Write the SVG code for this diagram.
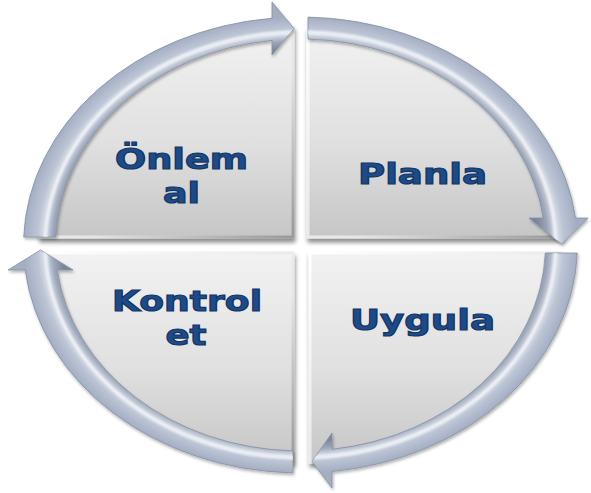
<svg xmlns="http://www.w3.org/2000/svg" xmlns:xlink="http://www.w3.org/1999/xlink" width="591" height="493" viewBox="0 0 591 493">
  <style>
    .panel { fill: url(#panelFill); stroke: url(#panelEdge); stroke-width: 3; filter: url(#panelShadow); }
    .label { font-family: "DejaVu Sans", Verdana, sans-serif; font-weight: bold; font-size: 29px; fill: #1e4b88; stroke: #143766; stroke-width: 1.2; text-anchor: middle; }
    .arrow { fill: url(#ringFill); stroke: #8690a5; stroke-width: 0.8; }
    .shine { fill: none; stroke: #f4f6fa; stroke-width: 3; opacity: 0.85; filter: url(#soft); }
  </style>
  <defs>
    <linearGradient id="panelFill" x1="0" y1="0" x2="0" y2="1">
      <stop offset="0" stop-color="#f2f2f2"/>
      <stop offset="0.55" stop-color="#e0e0e0"/>
      <stop offset="1" stop-color="#c6c6c6"/>
    </linearGradient>
    <linearGradient id="panelEdge" x1="0" y1="0" x2="1" y2="1">
      <stop offset="0" stop-color="#ffffff"/>
      <stop offset="0.6" stop-color="#e6e6e6"/>
      <stop offset="1" stop-color="#999999"/>
    </linearGradient>
    <radialGradient id="ringFill" gradientUnits="userSpaceOnUse" cx="300.5" cy="245" r="277"
      gradientTransform="translate(300.5 245) scale(1 0.823) translate(-300.5 -245)">
      <stop offset="0.86" stop-color="#7c869a"/>
      <stop offset="0.895" stop-color="#9ea8bb"/>
      <stop offset="0.925" stop-color="#dce1ea"/>
      <stop offset="0.95" stop-color="#bcc5d5"/>
      <stop offset="1" stop-color="#a4aec3"/>
    </radialGradient>
    <filter id="panelShadow" x="-10%" y="-10%" width="120%" height="125%">
      <feDropShadow dx="1" dy="4" stdDeviation="2" flood-color="#000" flood-opacity="0.45"/>
    </filter>
    <filter id="arrowShadow" x="-10%" y="-10%" width="120%" height="125%">
      <feDropShadow dx="1" dy="2" stdDeviation="1.5" flood-color="#000" flood-opacity="0.3"/>
    </filter>
    <filter id="soft" x="-5%" y="-5%" width="110%" height="110%">
      <feGaussianBlur stdDeviation="0.8"/>
    </filter>
    <path id="arrowTL" d="M 23.7,237 A 277 228 0 0 1 272,18.2 L 272,2 L 294,28.5 L 272,55 L 272,40.4 A 245 206 0 0 0 55.7,237 Z"/>
    <path id="arrowTR" d="M 308,17.1 A 277 228 0 0 1 575.5,218 L 588,218 L 561.5,244 L 529,218 L 543.4,218 A 245 206 0 0 0 308,39.1 Z"/>
    <path id="arrowBR" d="M 577.3,253 A 277 228 0 0 1 332,471.5 L 332,488 L 312,461.5 L 332,433 L 332,449.3 A 245 206 0 0 0 545.3,253 Z"/>
    <path id="arrowBL" d="M 293,472.9 A 277 228 0 0 1 25.2,270 L 8,270 L 40.5,250 L 73,270 L 57.3,270 A 245 206 0 0 0 293,450.9 Z"/>
    <clipPath id="clipTL"><use xlink:href="#arrowTL"/></clipPath>
    <clipPath id="clipTR"><use xlink:href="#arrowTR"/></clipPath>
    <clipPath id="clipBR"><use xlink:href="#arrowBR"/></clipPath>
    <clipPath id="clipBL"><use xlink:href="#arrowBL"/></clipPath>
  </defs>

  <rect width="591" height="493" fill="#ffffff"/>

  <!-- quarter panels -->
  <g id="node-onlem-al">
    <path class="panel" d="M 293,237 L 39.7,237 A 261 217 0 0 1 293,28.1 Z"/>
    <text class="label" x="181.5" y="169" textLength="133" lengthAdjust="spacingAndGlyphs">Önlem</text>
    <text class="label" x="181.5" y="203" textLength="37" lengthAdjust="spacingAndGlyphs">al</text>
  </g>
  <g id="node-planla">
    <path class="panel" d="M 308,237 L 308,28.1 A 261 217 0 0 1 561.3,237 Z"/>
    <text class="label" x="422.5" y="184" textLength="129" lengthAdjust="spacingAndGlyphs">Planla</text>
  </g>
  <g id="node-uygula">
    <path class="panel" d="M 310,253 L 561.3,253 A 261 217 0 0 1 310,461.9 Z"/>
    <text class="label" x="422.5" y="330" textLength="145" lengthAdjust="spacingAndGlyphs">Uygula</text>
  </g>
  <g id="node-kontrol-et">
    <path class="panel" d="M 293,253 L 293,461.9 A 261 217 0 0 1 39.7,253 Z"/>
    <text class="label" x="187" y="311" textLength="150" lengthAdjust="spacingAndGlyphs">Kontrol</text>
    <text class="label" x="186" y="345" textLength="41" lengthAdjust="spacingAndGlyphs">et</text>
  </g>

  <!-- curved arrows around the cycle -->
  <g id="connectors">
    <g filter="url(#arrowShadow)">
      <use class="arrow" xlink:href="#arrowTL"/>
      <use class="arrow" xlink:href="#arrowTR"/>
      <use class="arrow" xlink:href="#arrowBR"/>
      <use class="arrow" xlink:href="#arrowBL"/>
    </g>
    <ellipse class="shine" clip-path="url(#clipTL)" cx="300.5" cy="245" rx="255" ry="213"/>
    <ellipse class="shine" clip-path="url(#clipTR)" cx="300.5" cy="245" rx="255" ry="213"/>
    <ellipse class="shine" clip-path="url(#clipBR)" cx="300.5" cy="245" rx="255" ry="213"/>
    <ellipse class="shine" clip-path="url(#clipBL)" cx="300.5" cy="245" rx="255" ry="213"/>
  </g>
</svg>
